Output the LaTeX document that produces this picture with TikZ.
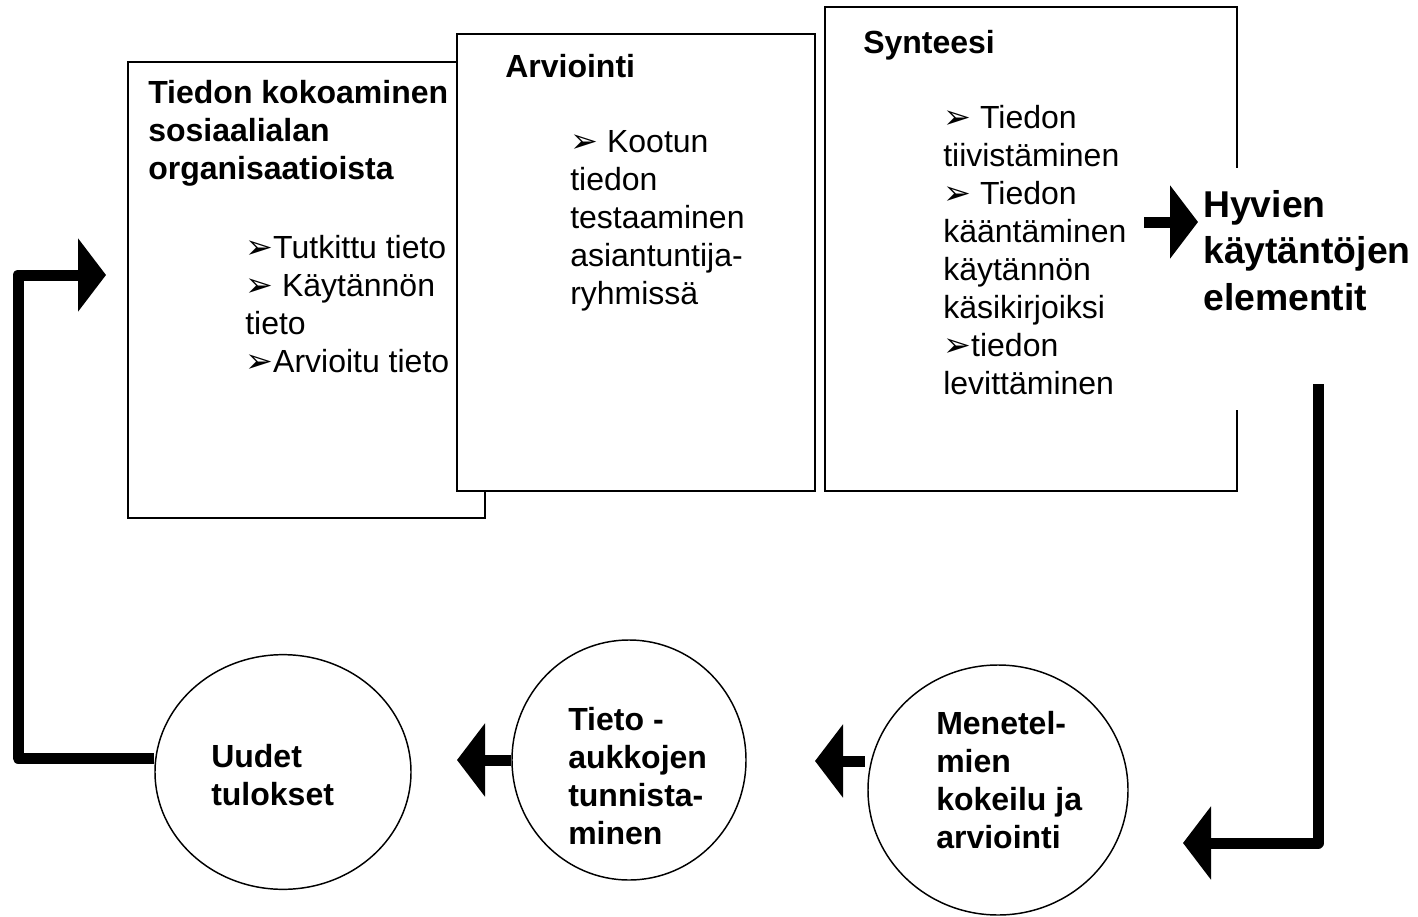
\documentclass[tikz,border=0pt]{standalone}
\usepackage{fontspec}
\setmainfont{Liberation Sans}
\newfontfamily\bulfont{DejaVu Sans}
\usetikzlibrary{arrows.meta,shapes.geometric,fit}
\newcommand\bl{{\bulfont\fontsize{25}{25}\selectfont ➢}}
\begin{document}
\begin{tikzpicture}[x=0.75pt,y=-0.75pt,
  box/.style={draw, fill=white, line width=1.1pt, inner sep=0},
  oval/.style={ellipse, draw, fill=white, line width=1.1pt, inner sep=0},
  txt/.style={inner sep=0, anchor=north west, align=left, font=\fontsize{24}{28.5}\selectfont},
  btxt/.style={txt, font=\bfseries\fontsize{24}{28.5}\selectfont},
  big/.style={line width=8.25pt, line join=round, -{Triangle[length=21pt,width=54pt]}}]
\useasboundingbox (0,0) rectangle (1418,917);

% boxes
\node[box, fit={(128,62) (485,518)}] (b1) {};
\node[box, fit={(457,34) (815,491)}] (b2) {};
\node[box, fit={(825,7) (1237,491)}] (b3) {};
\fill[white] (1200,168) rectangle (1275,410);

% box texts
\node[btxt] (t1) at (148,76.4) {\strut Tiedon kokoaminen\\sosiaalialan\\organisaatioista};
\node[txt] (l1) at (245,231.4) {\strut\bl{}Tutkittu tieto\\\bl{} Käytännön\\tieto\\\bl{}Arvioitu tieto};
\node[btxt] (t2) at (505,50.4) {\strut Arviointi};
\node[txt] (l2) at (570,125.4) {\strut\bl{} Kootun\\tiedon\\testaaminen\\asiantuntija-\\ryhmissä};
\node[btxt] (t3) at (863,26.4) {\strut Synteesi};
\node[txt] (l3) at (943,101.4) {\strut\bl{} Tiedon\\tiivistäminen\\\bl{} Tiedon\\kääntäminen\\käytännön\\käsikirjoiksi\\\bl{}tiedon\\levittäminen};
\node[txt, font=\bfseries\fontsize{28}{35}\selectfont] (hyv) at (1203,184.3) {\strut Hyvien\\käytäntöjen\\elementit};

% ovals
\node[oval, minimum width=192pt, minimum height=176pt] (c1) at (283,772) {};
\node[oval, minimum width=175.5pt, minimum height=180pt] (c2) at (629,760) {};
\node[oval, minimum width=195pt, minimum height=187.5pt] (c3) at (998,790) {};
\node[btxt] (u) at (211,740.4) {\strut Uudet\\tulokset};
\node[btxt] (tt) at (568,703.4) {\strut Tieto -\\aukkojen\\tunnista-\\minen};
\node[btxt] (m) at (936,707.4) {\strut Menetel-\\mien\\kokeilu ja\\arviointi};

% arrows
\coordinate (lb) at (18,758);
\coordinate (lt) at (18,275);
\coordinate (a1) at (106,275);
\draw[big] ([yshift=10.5pt]c1.west) -- (lb) -- (lt) -- (a1);
\coordinate (a2) at (457,760);
\draw[big] (c2.west) -- (a2);
\coordinate (a3) at (815,761);
\draw[big, shorten <=2pt] ([yshift=21.75pt]c3.west) -- (a3);
\coordinate (r0) at (1318,384);
\coordinate (r1) at (1318,843);
\coordinate (a4) at (1183,843);
\draw[big] (r0) -- (r1) -- (a4);
\coordinate (h0) at (1144,222);
\draw[big, shorten >=3.75pt] (h0) -- (h0 -| hyv.west);
\end{tikzpicture}
\end{document}
